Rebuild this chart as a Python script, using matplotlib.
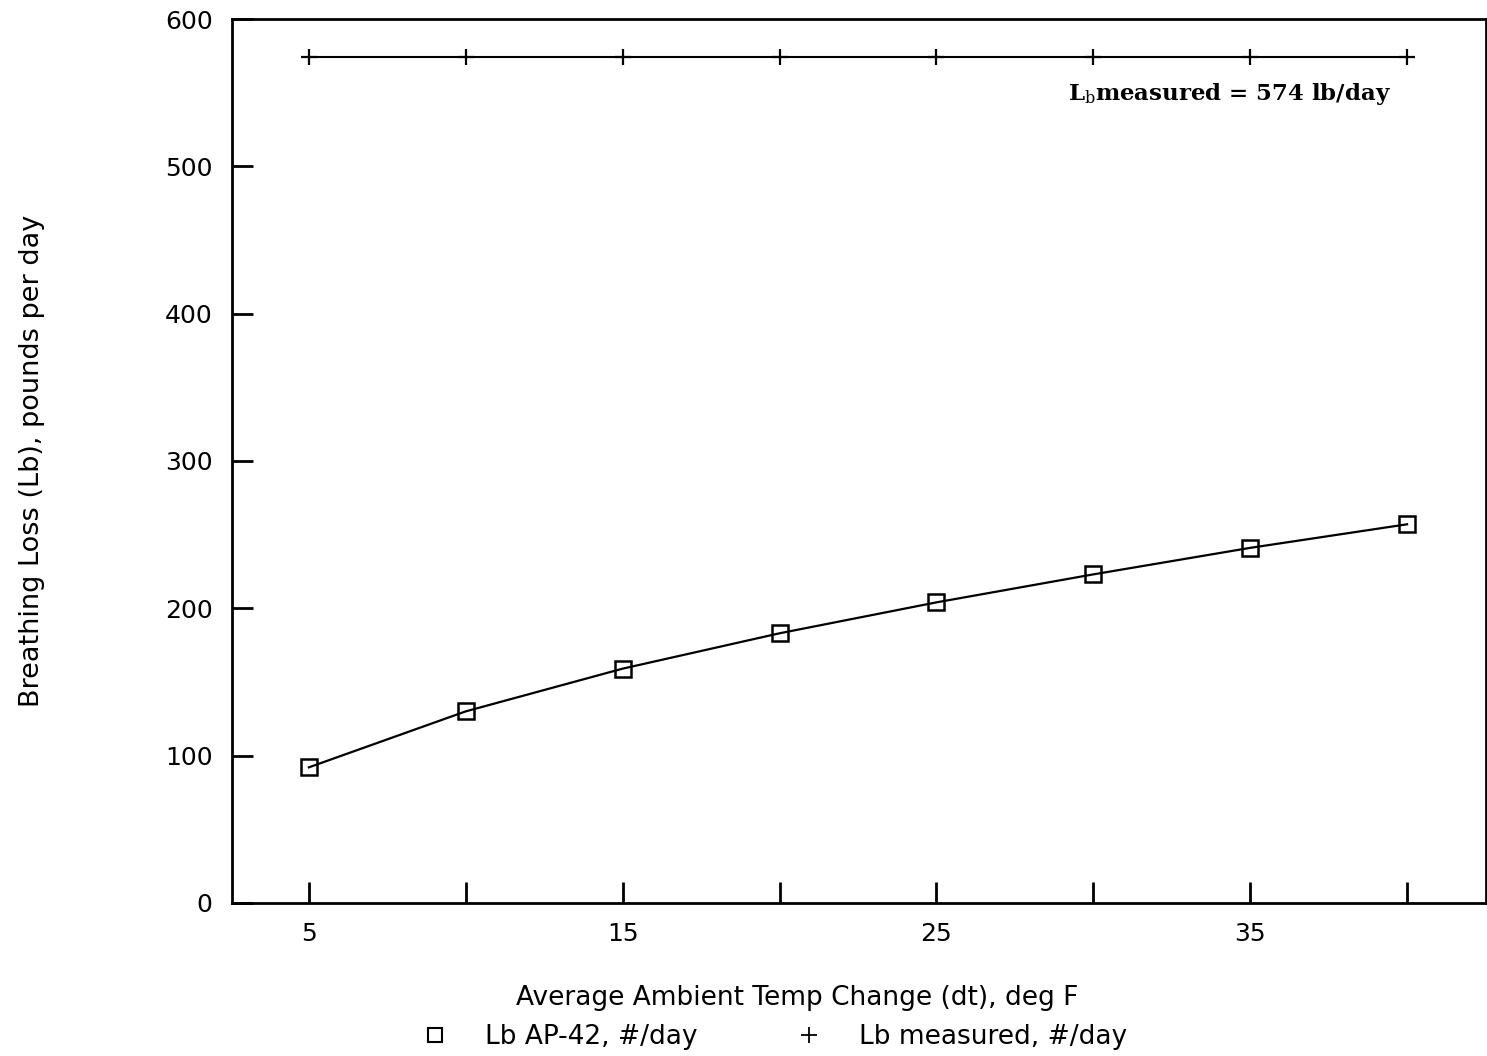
import numpy as np
import matplotlib
matplotlib.use("Agg")
import matplotlib.pyplot as plt
from matplotlib.lines import Line2D

# ---------------------------- data ----------------------------
dt = [5, 10, 15, 20, 25, 30, 35, 40]
lb_ap42 = [92, 130, 159, 183, 204, 223, 241, 257]
lb_measured = [574, 574, 574, 574, 574, 574, 574, 574]
xtick_labels = ["5", "", "15", "", "25", "", "35", ""]

# ---------------------------- plot ----------------------------
plt.rcParams['font.family'] = ['DejaVu Sans']
plt.rcParams['mathtext.fontset'] = 'dejavuserif'

fig = plt.figure(figsize=(14.87, 10.56), dpi=100)
ax = fig.add_axes([0.156, 0.145, 0.843, 0.837])

ax.plot(dt, lb_ap42, color='black', lw=1.6, marker='s', markersize=12,
        markerfacecolor='none', markeredgewidth=1.8)
ax.plot(dt, lb_measured, color='black', lw=1.5, marker='+', markersize=11,
        markeredgewidth=1.6)

ax.set_xlim(2.55, 42.5)
ax.set_ylim(0, 600)
ax.set_xticks(dt)
ax.set_xticklabels(xtick_labels)
ax.set_yticks(np.arange(0, 601, 100))

ax.tick_params(direction='in', length=15, width=2, labelsize=18, pad=14,
               top=False, right=False)
ax.tick_params(axis='x', pad=14)
for s in ax.spines.values():
    s.set_linewidth(2)

ax.set_xlabel("Average Ambient Temp Change (dt), deg F", fontsize=19)
ax.xaxis.set_label_coords(0.451, -0.093)
ax.set_ylabel("Breathing Loss (Lb), pounds per day", fontsize=19.5)
ax.yaxis.set_label_coords(-0.149, 0.5)

ax.text(0.667, 0.915, r"L$_\mathrm{b}$measured = 574 lb/day",
        transform=ax.transAxes, fontsize=16.5, fontweight='bold',
        family='DejaVu Serif', ha='left', va='center')

handles = [
    Line2D([], [], color='black', ls='none', marker='s', markersize=10,
           markerfacecolor='none', markeredgewidth=1.5),
    Line2D([], [], color='black', ls='none', marker='+', markersize=11,
           markeredgewidth=1.3),
]
fig.legend(handles, ["Lb AP-42, #/day", "Lb measured, #/day"], ncol=2,
           loc='center', bbox_to_anchor=(0.52, 0.018), frameon=False,
           fontsize=19, handlelength=1.2, handletextpad=1.3,
           columnspacing=3.6)

plt.savefig("out.png", dpi=100)
